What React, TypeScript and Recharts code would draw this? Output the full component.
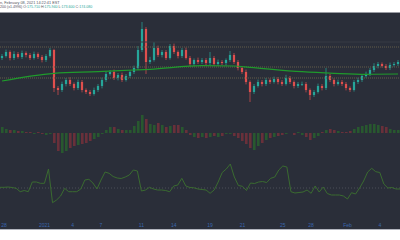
import React from 'react';
import { ComposedChart, BarChart, LineChart, Bar, Line, XAxis, YAxis, ReferenceLine, Cell } from 'recharts';

const firstOpen = 177.25;
const closes = [
  177.75, 178.75, 177.25, 178.25, 177.5, 178.5, 178, 177.25, 178.25, 177.5,
  176.75, 177.75, 179.25, 169.75, 169.25, 170.75, 171.75, 170.75, 169.75, 171.25,
  169.25, 168.75, 168.25, 169.25, 170.25, 171.75, 173.25, 173.75, 172.25, 173,
  171.75, 172.75, 173.75, 174.75, 179.25, 184.5, 176.25, 176.75, 179.75, 178,
  178.75, 177.25, 180.25, 178.75, 177.75, 179.25, 177.25, 175.75, 176.75, 176.25,
  176.75, 176, 177.25, 175.75, 176.25, 176, 176.75, 178, 176.25, 174.75,
  173.75, 171.25, 168.75, 170.25, 171.25, 170.75, 171.75, 171.25, 172, 171.25,
  170.75, 172.25, 171.25, 170.25, 170.75, 170.75, 169.25, 168, 168.75, 170.25,
  169.75, 172.75, 171.75, 170.75, 171.25, 170.75, 169.75, 169.25, 171.25, 171.75,
  172.75, 173.25, 174.25, 175.25, 175.75, 175.25, 174.75, 175.5, 175.75, 176.25,
];
const upperWicks = [
  0.5, 0.6, 0.4, 0.7, 0.5, 0.6, 0.4, 0.5, 0.6, 0.4,
  0.5, 0.5, 0.5, 0.3, 0.5, 0.6, 0.5, 0.7, 0.4, 0.6,
  0.5, 0.4, 0.5, 0.6, 0.5, 0.6, 0.7, 0.5, 0.6, 0.5,
  0.6, 0.5, 0.4, 0.6, 1, 1.75, 0.5, 0.8, 1.5, 0.6,
  0.5, 0.5, 0.5, 0.6, 0.4, 0.5, 0.6, 0.5, 0.4, 0.6,
  0.5, 0.5, 1.5, 0.5, 0.6, 0.5, 0.4, 1, 0.5, 0.5,
  0.5, 0.6, 0.4, 0.5, 0.6, 0.5, 0.5, 0.4, 0.6, 0.5,
  0.5, 0.8, 0.5, 0.4, 0.5, 0.6, 0.5, 0.4, 0.5, 0.6,
  0.5, 2, 0.5, 0.4, 0.6, 0.5, 0.5, 0.4, 0.5, 0.6,
  0.5, 0.6, 0.5, 0.7, 0.5, 0.4, 0.5, 0.6, 0.5, 0.5,
];
const lowerWicks = [
  0.5, 0.4, 0.6, 0.5, 0.4, 0.5, 0.6, 0.5, 0.4, 0.5,
  0.6, 0.5, 0.4, 1, 1.25, 0.5, 0.6, 0.5, 0.6, 0.5,
  0.6, 0.5, 0.5, 0.4, 0.5, 0.6, 0.5, 0.4, 0.5, 0.6,
  0.5, 0.4, 0.5, 0.5, 0.5, 0.5, 3, 0.5, 0.4, 0.5,
  0.6, 0.5, 0.4, 0.5, 0.6, 0.5, 0.4, 0.6, 0.5, 0.5,
  0.5, 0.6, 0.5, 0.4, 0.5, 0.5, 0.6, 0.5, 0.5, 0.6,
  0.5, 0.6, 2.5, 0.5, 0.4, 0.6, 0.5, 0.5, 0.4, 0.6,
  0.5, 0.4, 0.5, 0.6, 0.5, 0.5, 0.6, 1.25, 0.5, 0.4,
  0.6, 0.5, 0.5, 0.6, 0.4, 0.5, 0.6, 0.5, 0.4, 0.5,
  0.5, 0.4, 0.5, 0.5, 0.6, 0.4, 0.5, 0.5, 0.4, 0.5,
];
const histValues = [
  6, 4, 3, 3, 2, 2, 1, 1, -1, 1,
  -1, -2, -1, -10, -18, -20, -18, -15, -13, -12,
  -11, -10, -8, -6, -4, -1, 3, 6, 6, 4,
  3, 3, 3, 7, 12, 18, 14, 9, 8, 10,
  8, 6, 7, 8, 8, 6, 3, -2, -4, -5,
  -4, -5, -4, -3, -4, -3, -1, -1, -3, -5,
  -8, -11, -15, -17, -13, -10, -7, -5, -4, -3,
  -2, -1, 0, -2, 1, -2, -4, -7, -5, -3,
  1, 3, 4, 3, 2, 1, 1, 2, 4, 6,
  7, 8, 9, 9, 8, 7, 6, 4, 3, 3,
];
const oscValues = [
  50.7, 50.7, 51, 50.5, 49.7, 46.3, 47.5, 46.3, 56, 56,
  54.7, 54.7, 69, 35.3, 38, 42, 49.7, 46.3, 46.3, 46.3,
  49, 58, 58.7, 55, 49, 58, 66, 64.7, 61.5, 60,
  59.5, 61, 63, 68, 67, 47, 48, 50.7, 49, 48,
  48, 47.5, 46.3, 52, 53, 59.7, 52, 50.5, 50.2, 49,
  48.5, 48, 44.7, 48, 56, 65.5, 69, 74, 61, 52.5,
  51.7, 47.5, 55, 54.5, 56, 56.5, 55.5, 59.7, 61, 68,
  72, 71, 46.3, 45, 45.5, 46, 48, 44.7, 52, 46,
  51, 44.5, 43, 43, 43, 42, 39, 45.3, 44, 50,
  57, 66, 69.7, 66.3, 65.5, 54, 50, 50.5, 49, 49,
];
const maIndex = [0, 13, 24, 33, 37, 50, 58, 62, 75, 83, 91, 99];
const maValues = [171.5, 173.43, 173.83, 174.25, 174.43, 175.33, 175.25, 174.93, 173.83, 173.43, 173.18, 173.25];
const levelLines = [180, 175, 172.25];
const faintLevel = 181.25;
const tickIndex = [1, 11, 18, 25, 35, 43, 52, 60, 70, 77, 86, 94];
const tickLabels = ['28', '2021', '4', '7', '11', '14', '19', '21', '25', '28', 'Feb', '4'];
const headerLine1 = 'n, February 08, 2021 14:22:41 EST';
const headerPrefix = '200 (x1.4996)';
const ohlcLabels = ['O', 'H', 'L', 'C'];
const ohlcValues = ['175.710', '175.940', '173.600', '174.080'];

const UP = '#26a69a';
const DOWN = '#e04f4d';
const BG = '#2a2e39';

const rows = closes.map((c, i) => {
  const open = i === 0 ? firstOpen : closes[i - 1];
  const high = Math.max(open, c) + upperWicks[i];
  const low = Math.min(open, c) - lowerWicks[i];
  return { i, open, close: c, high, low, range: [low, high], hist: histValues[i], osc: oscValues[i] };
});
const maRows = maIndex.map((t, k) => ({ t, v: maValues[k] }));
const tickMap: Record<number, string> = {};
tickIndex.forEach((t, k) => { tickMap[t] = tickLabels[k]; });

const Candle = (props: any) => {
  const { x, y, width, height, payload } = props;
  if (x == null || y == null) return null;
  const { open, close, high, low } = payload;
  const color = close >= open ? UP : DOWN;
  const k = high === low ? 0 : height / (high - low);
  const cx = x + width / 2;
  const top = y + (high - Math.max(open, close)) * k;
  const bot = y + (high - Math.min(open, close)) * k;
  const bw = 2.2;
  return (
    <g>
      <line x1={cx} x2={cx} y1={y} y2={y + height} stroke={color} strokeWidth={0.7} />
      <rect x={cx - bw / 2} y={top} width={bw} height={Math.max(bot - top, 0.8)} fill={color} />
    </g>
  );
};

const M = { top: 0, right: 0, bottom: 0, left: 0 };
const PRICE_DOMAIN: [number, number] = [164.25, 188.75];

export default function App() {
  return (
    <div style={{ position: 'fixed', left: 0, top: 0, width: 400, height: 240, background: '#ffffff', overflow: 'hidden', fontFamily: '"Liberation Sans", Arial, sans-serif' }}>
      <div style={{ position: 'absolute', left: 0, top: 0.5, fontSize: 3.8, lineHeight: '4px', color: '#50535e', whiteSpace: 'nowrap' }}>{headerLine1}</div>
      <div style={{ position: 'absolute', left: 0, top: 4.8, fontSize: 3.6, lineHeight: '4px', color: '#50535e', whiteSpace: 'nowrap' }}>
        {headerPrefix}{' '}
        {ohlcLabels.map((l, k) => (
          <span key={l}>{l}:<span style={{ color: UP }}>{ohlcValues[k]}</span>{' '}</span>
        ))}
      </div>
      <div style={{ position: 'absolute', left: 0, top: 12, width: 400, height: 217, background: BG }} />
      <div style={{ position: 'absolute', left: 0, top: 12, width: 400, height: 1, background: '#9a9ca3' }} />
      <div style={{ position: 'absolute', left: 0, top: 229, width: 400, height: 1, background: '#b2b5be' }} />

      <div style={{ position: 'absolute', left: 0, top: 12 }}>
        <ComposedChart width={400} height={98} data={rows} margin={M} barCategoryGap={0}>
          <XAxis dataKey="i" hide />
          <YAxis hide domain={PRICE_DOMAIN} allowDataOverflow />
          <ReferenceLine y={faintLevel} stroke="#363a44" strokeWidth={1} />
          {levelLines.map((v) => (
            <ReferenceLine key={v} y={v} stroke="#625c4b" strokeDasharray="1 1" strokeWidth={1} />
          ))}
          <Bar dataKey="range" shape={Candle} isAnimationActive={false} />
        </ComposedChart>
      </div>
      <div style={{ position: 'absolute', left: 0, top: 12 }}>
        <LineChart width={400} height={98} data={maRows} margin={M}>
          <XAxis dataKey="t" type="number" domain={[-0.5, 99.5]} hide />
          <YAxis hide domain={PRICE_DOMAIN} allowDataOverflow />
          <Line dataKey="v" type="monotone" stroke="#1f9a2c" strokeWidth={1.2} dot={false} isAnimationActive={false} />
        </LineChart>
      </div>

      <div style={{ position: 'absolute', left: 0, top: 111 }}>
        <BarChart width={400} height={44} data={rows} margin={M} barCategoryGap={0}>
          <XAxis dataKey="i" hide />
          <YAxis hide domain={[-22, 22]} allowDataOverflow />
          <Bar dataKey="hist" barSize={2.6} isAnimationActive={false}>
            {rows.map((r) => (
              <Cell key={r.i} fill={r.close >= r.open ? '#28582f' : '#69303a'} />
            ))}
          </Bar>
        </BarChart>
      </div>

      <div style={{ position: 'absolute', left: 0, top: 160 }}>
        <LineChart width={400} height={69} data={rows} margin={M}>
          <XAxis
            dataKey="i"
            height={19}
            ticks={tickIndex}
            interval={0}
            tickFormatter={(v: number) => tickMap[v] ?? ''}
            axisLine={false}
            tickLine={false}
            tickSize={0}
            tickMargin={13}
            tick={{ fill: '#3a66ad', fontSize: 5, fontFamily: '"Liberation Sans", Arial, sans-serif' }}
          />
          <YAxis hide domain={[28, 78]} allowDataOverflow />
          <ReferenceLine y={50} stroke="#4a4f58" strokeDasharray="1 2" strokeWidth={1} />
          <Line dataKey="osc" type="linear" stroke="#3a6b30" strokeWidth={1} dot={false} isAnimationActive={false} />
        </LineChart>
      </div>
    </div>
  );
}
